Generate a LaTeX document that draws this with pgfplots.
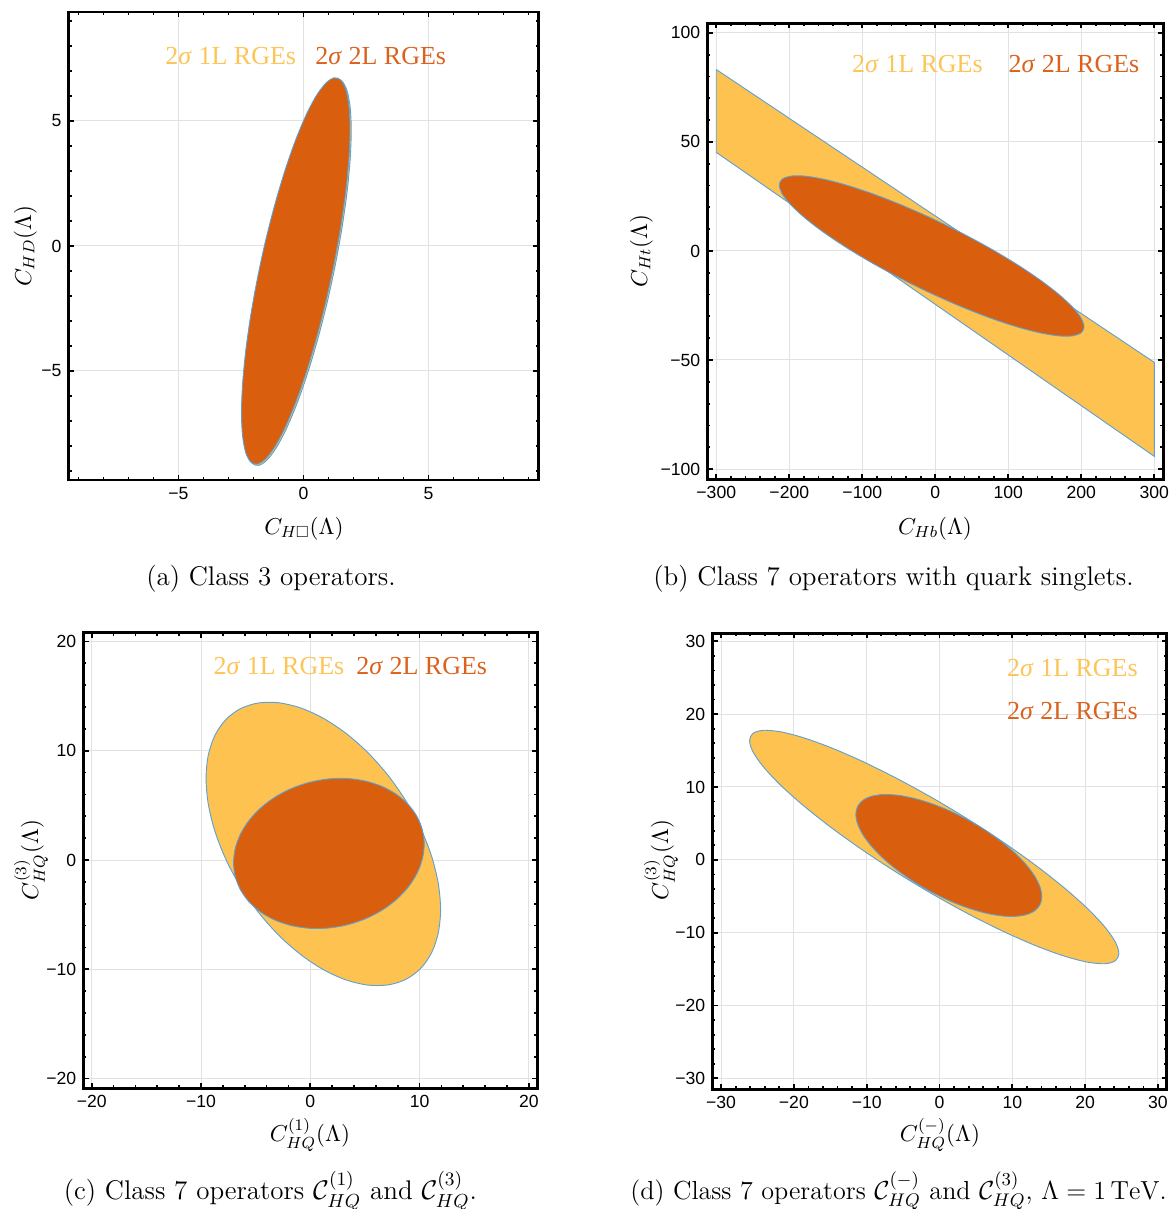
\documentclass[border=0pt]{standalone}
\usepackage{fix-cm}
\usepackage{amssymb}
\usepackage{fontspec}
\setsansfont{Liberation Sans}
\newfontfamily\mmaserif{Liberation Serif}
\usepackage{pgfplots}
\pgfplotsset{compat=1.18}

\definecolor{oneL}{RGB}{253,194,80}
\definecolor{twoL}{RGB}{217,94,14}
\definecolor{oneLtxt}{RGB}{253,196,88}
\definecolor{twoLtxt}{RGB}{218,98,28}
\definecolor{edgec}{RGB}{92,160,212}
\definecolor{gridc}{RGB}{226,226,226}

\pgfplotsset{
  panel/.style={
    scale only axis, anchor=south west,
    axis line style={line width=1.3pt},
    tick style={black, line width=0.9pt},
    major tick length=2.6pt, minor tick length=1.5pt,
    tick align=inside,
    xtick pos=both, ytick pos=both,
    xticklabel pos=lower, yticklabel pos=left,
    xmajorgrids, ymajorgrids,
    major grid style={gridc, line width=0.5pt},
    tick label style={font=\fontsize{8.8}{10}\selectfont\sffamily},
  },
  oneLs/.style={fill=oneL, draw=edgec, line width=0.45pt},
  twoLs/.style={fill=twoL, draw=edgec, line width=0.45pt},
}

\newcommand{\lab}{\fontsize{11.5}{13}\selectfont}
\newcommand{\capf}{\fontsize{13.5}{15}\selectfont}
\newcommand{\capd}{\fontsize{13.05}{15}\selectfont}
\newcommand{\leg}{\mmaserif\fontsize{13}{15}\selectfont}

\begin{document}
\begin{tikzpicture}
\useasboundingbox (0,0) rectangle (584.5pt,604.5pt);

% (a)
\begin{axis}[panel, at={(34.25pt,364.5pt)}, width=235pt, height=234pt,
  xmin=-9.4, xmax=9.4, ymin=-9.36, ymax=9.36,
  xtick={-5,0,5}, xticklabels={−5,0,5},
  ytick={-5,0,5}, yticklabels={−5,0,5},
  minor xtick={-9,...,9}, minor ytick={-9,...,9}]
\addplot[oneLs, smooth cycle] coordinates {(1.91,4.625) (1.868,5.54) (1.745,6.202) (1.544,6.586) (1.274,6.675) (0.946,6.468) (0.57,5.972) (0.163,5.206) (-0.26,4.2) (-0.683,2.992) (-1.09,1.628) (-1.466,0.162) (-1.794,-1.351) (-2.064,-2.852) (-2.265,-4.284) (-2.388,-5.592) (-2.43,-6.725) (-2.388,-7.64) (-2.265,-8.302) (-2.064,-8.686) (-1.794,-8.775) (-1.466,-8.568) (-1.09,-8.072) (-0.683,-7.306) (-0.26,-6.3) (0.163,-5.092) (0.57,-3.728) (0.946,-2.262) (1.274,-0.749) (1.544,0.752) (1.745,2.184) (1.868,3.492)};
\addplot[twoLs, smooth cycle] coordinates {(1.86,4.675) (1.818,5.59) (1.695,6.252) (1.494,6.636) (1.224,6.725) (0.896,6.518) (0.52,6.022) (0.113,5.256) (-0.31,4.25) (-0.733,3.042) (-1.14,1.678) (-1.516,0.212) (-1.844,-1.301) (-2.114,-2.802) (-2.315,-4.234) (-2.438,-5.542) (-2.48,-6.675) (-2.438,-7.59) (-2.315,-8.252) (-2.114,-8.636) (-1.844,-8.725) (-1.516,-8.518) (-1.14,-8.022) (-0.733,-7.256) (-0.31,-6.25) (0.113,-5.042) (0.52,-3.678) (0.896,-2.212) (1.224,-0.699) (1.494,0.802) (1.695,2.234) (1.818,3.542)};
\end{axis}

% (b)
\begin{axis}[panel, at={(353.65pt,364.85pt)}, width=228pt, height=228pt,
  xmin=-312.3, xmax=312.3, ymin=-104.7, ymax=104.4,
  xtick={-300,-200,...,300}, xticklabels={−300,−200,−100,0,100,200,300},
  ytick={-100,-50,0,50,100}, yticklabels={−100,−50,0,50,100},
  minor xtick={-300,-280,...,300}, minor ytick={-100,-90,...,100}]
\addplot[oneLs] coordinates {(-300,83.2) (300,-51.1) (300,-94.2) (-300,45.2) (-300,83.2)};
\addplot[twoLs, smooth cycle] coordinates {(203.7,-34.8) (199.69,-30.809) (187.8,-25.72) (168.53,-19.734) (142.6,-13.08) (110.95,-6.005) (74.9,1.21) (35.72,8.288) (-5,14.96) (-45.72,20.97) (-84.9,26.09) (-120.95,30.109) (-152.6,32.88) (-178.53,34.314) (-197.8,34.33) (-209.69,32.943) (-213.7,30.2) (-209.69,26.209) (-197.8,21.12) (-178.53,15.134) (-152.6,8.48) (-120.95,1.405) (-84.9,-5.81) (-45.72,-12.888) (-5,-19.56) (35.72,-25.57) (74.9,-30.69) (110.95,-34.709) (142.6,-37.48) (168.53,-38.914) (187.8,-38.94) (199.69,-37.543)};
\end{axis}

% (c)
\begin{axis}[panel, at={(41.65pt,60.35pt)}, width=227pt, height=227.8pt,
  xmin=-20.77, xmax=20.77, ymin=-20.89, ymax=20.8,
  xtick={-20,-10,0,10,20}, xticklabels={−20,−10,0,10,20},
  ytick={-20,-10,0,10,20}, yticklabels={−20,−10,0,10,20},
  minor xtick={-20,-18,...,20}, minor ytick={-20,-18,...,20}]
\addplot[oneLs, smooth cycle] coordinates {(11.92,-4.53) (11.714,-2.171) (11.103,0.328) (10.112,2.87) (8.777,5.359) (7.152,7.698) (5.296,9.799) (3.283,11.578) (1.19,12.97) (-0.903,13.92) (-2.916,14.391) (-4.772,14.366) (-6.397,13.845) (-7.732,12.848) (-8.723,11.414) (-9.334,9.599) (-9.54,7.47) (-9.334,5.111) (-8.723,2.612) (-7.732,0.07) (-6.397,-2.419) (-4.772,-4.758) (-2.916,-6.859) (-0.903,-8.638) (1.19,-10.03) (3.283,-10.98) (5.296,-11.451) (7.152,-11.426) (8.777,-10.905) (10.112,-9.908) (11.103,-8.474) (11.714,-6.659)};
\addplot[twoLs, smooth cycle] coordinates {(10.42,1.44) (10.253,2.755) (9.756,3.986) (8.951,5.087) (7.866,6.016) (6.545,6.738) (5.037,7.222) (3.401,7.453) (1.7,7.42) (-0.001,7.125) (-1.637,6.58) (-3.145,5.804) (-4.466,4.828) (-5.551,3.691) (-6.356,2.434) (-6.853,1.107) (-7.02,-0.24) (-6.853,-1.555) (-6.356,-2.786) (-5.551,-3.887) (-4.466,-4.816) (-3.145,-5.538) (-1.637,-6.022) (-0.001,-6.253) (1.7,-6.22) (3.401,-5.925) (5.037,-5.38) (6.545,-4.604) (7.866,-3.628) (8.951,-2.491) (9.756,-1.234) (10.253,0.093)};
\end{axis}

% (d)
\begin{axis}[panel, at={(356.15pt,59.85pt)}, width=227.2pt, height=228pt,
  xmin=-31.2, xmax=31.2, ymin=-31.5, ymax=31.1,
  xtick={-30,-20,...,30}, xticklabels={−30,−20,−10,0,10,20,30},
  ytick={-30,-20,...,30}, yticklabels={−30,−20,−10,0,10,20,30},
  minor xtick={-30,-28,...,30}, minor ytick={-30,-28,...,30}]
\addplot[oneLs, smooth cycle] coordinates {(24.63,-12.85) (24.143,-11.282) (22.7,-9.212) (20.357,-6.721) (17.202,-3.904) (13.36,-0.869) (8.975,2.267) (4.218,5.383) (-0.73,8.36) (-5.678,11.083) (-10.435,13.449) (-14.82,15.365) (-18.662,16.758) (-21.817,17.575) (-24.16,17.784) (-25.603,17.378) (-26.09,16.37) (-25.603,14.802) (-24.16,12.732) (-21.817,10.241) (-18.662,7.424) (-14.82,4.389) (-10.435,1.253) (-5.678,-1.863) (-0.73,-4.84) (4.218,-7.563) (8.975,-9.929) (13.36,-11.845) (17.202,-13.238) (20.357,-14.055) (22.7,-14.264) (24.143,-13.858)};
\addplot[twoLs, smooth cycle] coordinates {(14.05,-5.045) (13.805,-3.731) (13.078,-2.25) (11.898,-0.66) (10.31,0.978) (8.375,2.603) (6.167,4.15) (3.771,5.56) (1.28,6.78) (-1.211,7.762) (-3.607,8.47) (-5.815,8.875) (-7.75,8.962) (-9.338,8.728) (-10.518,8.18) (-11.245,7.343) (-11.49,6.245) (-11.245,4.931) (-10.518,3.45) (-9.338,1.86) (-7.75,0.222) (-5.815,-1.403) (-3.607,-2.95) (-1.211,-4.36) (1.28,-5.58) (3.771,-6.562) (6.167,-7.27) (8.375,-7.675) (10.31,-7.762) (11.898,-7.528) (13.078,-6.98) (13.805,-6.143)};
\end{axis}

\begin{scope}[x=0.5pt, y=-0.5pt, yshift=604.5pt]
% legends
\node[anchor=base west, inner sep=0, text=oneLtxt] at (165,65) {\leg 2\textit{σ} 1L RGEs};
\node[anchor=base west, inner sep=0, text=twoLtxt] at (315,65) {\leg 2\textit{σ} 2L RGEs};
\node[anchor=base west, inner sep=0, text=oneLtxt] at (851.7,72.3) {\leg 2\textit{σ} 1L RGEs};
\node[anchor=base west, inner sep=0, text=twoLtxt] at (1008.3,72.3) {\leg 2\textit{σ} 2L RGEs};
\node[anchor=base west, inner sep=0, text=oneLtxt] at (213.3,675) {\leg 2\textit{σ} 1L RGEs};
\node[anchor=base west, inner sep=0, text=twoLtxt] at (356,675) {\leg 2\textit{σ} 2L RGEs};
\node[anchor=base west, inner sep=0, text=oneLtxt] at (1006.7,676.7) {\leg 2\textit{σ} 1L RGEs};
\node[anchor=base west, inner sep=0, text=twoLtxt] at (1006.7,720) {\leg 2\textit{σ} 2L RGEs};
% axis labels
\node[anchor=base, inner sep=0] at (304,534.5) {\lab $C_{H\square}(\Lambda)$};
\node[anchor=base, inner sep=0, rotate=90] at (31,246) {\lab $C_{HD}(\Lambda)$};
\node[anchor=base, inner sep=0] at (935,534.5) {\lab $C_{Hb}(\Lambda)$};
\node[anchor=base, inner sep=0, rotate=90] at (647,251) {\lab $C_{Ht}(\Lambda)$};
\node[anchor=base, inner sep=0] at (310,1142) {\lab $C^{(1)}_{HQ}(\Lambda)$};
\node[anchor=base, inner sep=0, rotate=90] at (38,860) {\lab $C^{(3)}_{HQ}(\Lambda)$};
\node[anchor=base, inner sep=0] at (940,1142) {\lab $C^{(-)}_{HQ}(\Lambda)$};
\node[anchor=base, inner sep=0, rotate=90] at (668,860) {\lab $C^{(3)}_{HQ}(\Lambda)$};
% captions
\node[anchor=base, inner sep=0] at (271,586) {\capf (a) Class 3 operators.};
\node[anchor=base, inner sep=0] at (893.5,586) {\capf (b) Class 7 operators with quark singlets.};
\node[anchor=base, inner sep=0] at (270.4,1199.3) {\capf (c) Class 7 operators $\mathcal{C}^{(1)}_{HQ}$ and $\mathcal{C}^{(3)}_{HQ}$.};
\node[anchor=base east, inner sep=0] at (1167,1199.3) {\capd (d) Class 7 operators $\mathcal{C}^{(-)}_{HQ}$ and $\mathcal{C}^{(3)}_{HQ}$, $\Lambda=1\,\mathrm{TeV}$.};
\end{scope}
\end{tikzpicture}
\end{document}
